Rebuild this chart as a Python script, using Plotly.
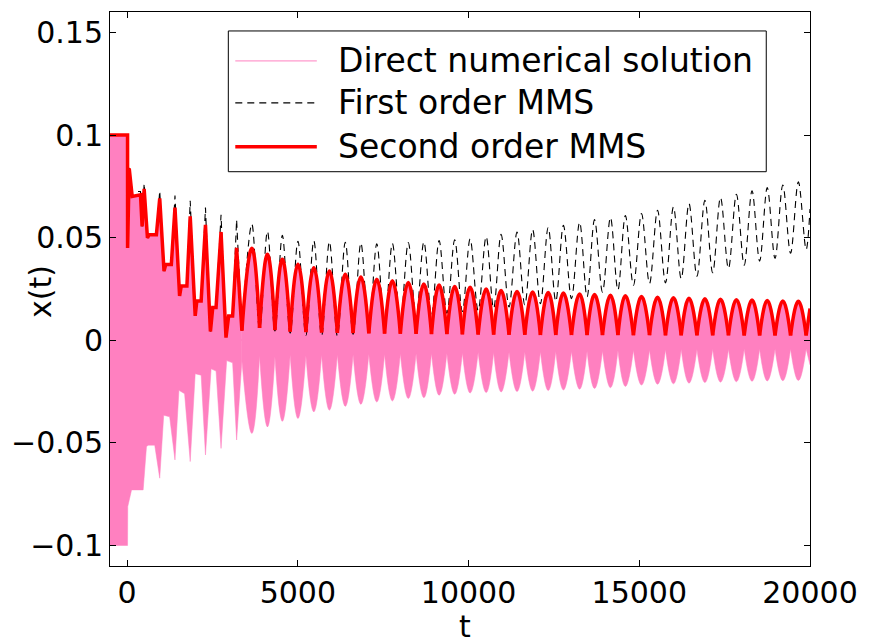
import plotly.graph_objects as go

# ---------------- data ----------------
# Early transient (t < 3400): vertices of the envelopes, joined by straight lines
early_t = [-500, 14, 15, 63, 150, 393, 441, 500, 597, 645, 859, 956, 1082, 1131, 1296,
           1403, 1538, 1587, 1752, 1849, 1995, 2043, 2169, 2296, 2441, 2509, 2606, 2752,
           2897, 2975, 3091, 3208, 3363]
second_early = [0.1, 0.1, 0.045, 0.0838, 0.0701, 0.0709, 0.0555, 0.0738, 0.0499, 0.0515,
                0.0515, 0.0692, 0.0337, 0.0369, 0.0369, 0.0647, 0.0216, 0.0265, 0.0265,
                0.0604, 0.0119, 0.0192, 0.0192, 0.0563, 0.0043, 0.0160, 0.0160, 0.0528,
                0.0013, 0.0119, 0.0119, 0.0450, 0.0047]
first_early = [0.1, 0.1, 0.045, 0.084, 0.0725, 0.0725, 0.0555, 0.0765, 0.0499, 0.0515,
               0.0515, 0.0728, 0.0337, 0.0369, 0.0369, 0.0705, 0.0216, 0.0265, 0.0265,
               0.068, 0.0119, 0.0192, 0.0192, 0.0647, 0.0043, 0.016, 0.016, 0.0612,
               0.0013, 0.0119, 0.0119, 0.0588, 0.0047]
direct_low_early_t = [-500, 14, 20, 131, 471, 568, 616, 810, 956, 1073, 1247, 1403, 1519,
                      1684, 1849, 1995, 2169, 2296, 2461, 2606, 2752, 2917, 3091, 3208, 3363]
direct_low_early = [-0.1, -0.1, -0.081, -0.0729, -0.0729, -0.0519, -0.0511, -0.0511,
                    -0.0672, -0.0365, -0.0373, -0.0583, -0.0244, -0.0260, -0.0591, -0.0163,
                    -0.0170, -0.0559, -0.0139, -0.0150, -0.0527, -0.0099, -0.0110, -0.0486,
                    -0.0099]

# Slow modulation after the transient: envelope minima (troughs) and maxima (peaks)
trough_t = [3363, 3880, 4330, 4776, 5237, 5697, 6158, 6619, 7080, 7541, 8003, 8464, 8915,
            9366, 9820, 10281, 10735, 11186, 11648, 12105, 12555, 13015, 13471, 13923,
            14375, 14829, 15300, 15768, 16228, 16689, 17150, 17612, 18073, 18525, 18976,
            19431, 19887]
peak_t = [3654, 4111, 4547, 5004, 5469, 5925, 6391, 6847, 7313, 7770, 8236, 8692, 9138,
          9595, 10046, 10516, 10953, 11420, 11877, 12333, 12778, 13253, 13690, 14156,
          14593, 15065, 15535, 16001, 16456, 16922, 17379, 17845, 18302, 18748, 19204, 19659]

second_peak = [0.0448, 0.0419, 0.0395, 0.0371, 0.0354, 0.0338, 0.0322, 0.0309, 0.0298,
               0.0290, 0.0282, 0.0274, 0.0269, 0.0262, 0.0258, 0.0250, 0.0243, 0.0238,
               0.0235, 0.0233, 0.0230, 0.0226, 0.0223, 0.0220, 0.0217, 0.0214, 0.0210,
               0.0207, 0.0205, 0.0202, 0.0200, 0.0198, 0.0196, 0.0194, 0.0192, 0.0190]
second_trough = [0.0047, 0.0060, 0.0050, 0.0042, 0.0040, 0.0038, 0.0036, 0.0035, 0.0034,
                 0.0033, 0.0032, 0.0031, 0.0030, 0.0030, 0.0029, 0.0028, 0.0028, 0.0027,
                 0.0027, 0.0026, 0.0026, 0.0026, 0.0025, 0.0025, 0.0025, 0.0025, 0.0025,
                 0.0024, 0.0024, 0.0024, 0.0024, 0.0024, 0.0023, 0.0023, 0.0023, 0.0023,
                 0.0023]
first_peak = [0.0566, 0.0531, 0.0512, 0.0483, 0.0485, 0.0480, 0.0478, 0.0474, 0.0470,
              0.0472, 0.0476, 0.0480, 0.0486, 0.0490, 0.0494, 0.0505, 0.0516, 0.0527,
              0.0540, 0.0550, 0.0560, 0.0575, 0.0588, 0.0598, 0.0608, 0.0618, 0.0634,
              0.0650, 0.0666, 0.0682, 0.0696, 0.0712, 0.0728, 0.0744, 0.0757, 0.0772]
first_trough = [0.0047, 0.0055, 0.0045, 0.0035, 0.0025, 0.0022, 0.0022, 0.0030, 0.0050,
                0.0075, 0.0095, 0.0110, 0.0122, 0.0132, 0.0140, 0.0145, 0.0155, 0.0163,
                0.0172, 0.0178, 0.0190, 0.0203, 0.0212, 0.0235, 0.0245, 0.0268, 0.0277,
                0.0280, 0.0300, 0.0312, 0.0329, 0.0350, 0.0366, 0.0386, 0.0400, 0.0424,
                0.0442]
direct_min = [-0.0454, -0.0422, -0.0395, -0.0381, -0.0349, -0.0341, -0.0322, -0.0312,
              -0.0301, -0.0296, -0.0284, -0.0280, -0.0268, -0.0263, -0.0257, -0.0255,
              -0.0252, -0.0250, -0.0248, -0.0245, -0.0242, -0.0238, -0.0235, -0.0231,
              -0.0225, -0.0218, -0.0214, -0.0212, -0.0209, -0.0206, -0.0204, -0.0202,
              -0.0200, -0.0198, -0.0197, -0.0196]
direct_cusp = [-0.0099, -0.0075, -0.0080, -0.0072, -0.0075, -0.0072, -0.0070, -0.0070,
               -0.0068, -0.0068, -0.0066, -0.0066, -0.0064, -0.0064, -0.0062, -0.0060,
               -0.0060, -0.0058, -0.0057, -0.0056, -0.0055, -0.0054, -0.0053, -0.0052,
               -0.0050, -0.0048, -0.0047, -0.0046, -0.0045, -0.0045, -0.0044, -0.0044,
               -0.0043, -0.0043, -0.0042, -0.0042, -0.0042]

t_end = 20000
second_end = 0.0155
first_end = 0.064
direct_low_end = -0.012

xticks = [0, 5000, 10000, 15000, 20000]
xtick_text = ["0", "5000", "10000", "15000", "20000"]
yticks = [-0.1, -0.05, 0, 0.05, 0.1, 0.15]
ytick_text = ["\u22120.1", "\u22120.05", "0", "0.05", "0.1", "0.15"]

legend_names = ["Direct numerical solution", "First order MMS", "Second order MMS"]

# ---------------- helpers ----------------
def arches(tt, tv, pt, pv, te, ve):
    """One spline arch per cycle (trough -> peak -> trough), cusps at the troughs."""
    xs, ys = [], []
    for i in range(len(pt)):
        xs += [tt[i], pt[i], tt[i + 1], None]
        ys += [tv[i], pv[i], tv[i + 1], None]
    xs += [tt[-1], te]
    ys += [tv[-1], ve]
    return xs, ys


def wave(tt, tv, pt, pv, te, ve):
    """Continuous alternating trough/peak sequence."""
    xs, ys = [], []
    for i in range(len(pt)):
        xs += [tt[i], pt[i]]
        ys += [tv[i], pv[i]]
    xs += [tt[-1], te]
    ys += [tv[-1], ve]
    return xs, ys


PINK = "#FF80C0"
RED = "#FF0000"
FONT = "DejaVu Sans"
DASH = "7px,5px"

fig = go.Figure()

# Direct numerical solution: fast oscillation drawn as its filled band
sec_x, sec_y = arches(trough_t, second_trough, peak_t, second_peak, t_end, second_end)
low_x, low_y = arches(trough_t, direct_cusp, peak_t, direct_min, t_end, direct_low_end)

for xs, ys, shape in [(early_t, second_early, "linear"),
                      (direct_low_early_t, direct_low_early, "linear"),
                      (sec_x, sec_y, "spline"),
                      (low_x, low_y, "spline")]:
    fig.add_trace(go.Scatter(
        x=xs, y=ys, mode="lines", fill="tozeroy", fillcolor=PINK,
        line=dict(color=PINK, width=0.5, shape=shape, smoothing=1.3, simplify=False),
        connectgaps=False, hoverinfo="skip", name=legend_names[0], showlegend=False))

# First order MMS
fst_x, fst_y = wave(trough_t, first_trough, peak_t, first_peak, t_end, first_end)
fig.add_trace(go.Scatter(x=early_t, y=first_early, mode="lines",
                         line=dict(color="black", width=1.1, dash=DASH, simplify=False),
                         name=legend_names[1], showlegend=False))
fig.add_trace(go.Scatter(x=fst_x, y=fst_y, mode="lines",
                         line=dict(color="black", width=1.1, dash=DASH, shape="spline",
                                   smoothing=1.0, simplify=False),
                         name=legend_names[1], showlegend=False))

# Second order MMS
fig.add_trace(go.Scatter(x=early_t, y=second_early, mode="lines",
                         line=dict(color=RED, width=3.5, simplify=False),
                         name=legend_names[2], showlegend=False))
fig.add_trace(go.Scatter(x=sec_x, y=sec_y, mode="lines", connectgaps=False,
                         line=dict(color=RED, width=3.5, shape="spline", smoothing=1.3,
                                   simplify=False),
                         name=legend_names[2], showlegend=False))

# ---------------- layout ----------------
W, H = 869, 643
L, R, T, B = 110, 814, 11, 566


def px(x):
    return (x - L) / (R - L)


def py(y):
    return (B - y) / (B - T)


axis_common = dict(showline=True, linecolor="black", linewidth=1, mirror="ticks",
                   ticks="inside", ticklen=6, tickcolor="black", showgrid=False,
                   tickfont=dict(family=FONT, size=30, color="black"))

fig.update_layout(
    width=W, height=H,
    margin=dict(l=L, r=W - R, t=T, b=H - B),
    plot_bgcolor="white", paper_bgcolor="white",
    showlegend=False,
    xaxis=dict(range=[-500, 20000], tickvals=xticks, ticktext=xtick_text,
               zeroline=False, **axis_common),
    # the pink zero line sits under the band so the two filled halves join seamlessly
    yaxis=dict(range=[-0.11, 0.16], tickvals=yticks, ticktext=ytick_text,
               zeroline=True, zerolinecolor=PINK, zerolinewidth=2, **axis_common),
)

# axis titles
fig.add_annotation(text="t", x=px(467), y=py(627), xref="paper", yref="paper",
                   showarrow=False, xanchor="center", yanchor="middle",
                   font=dict(family=FONT, size=30, color="black"))
fig.add_annotation(text="x(t)", x=px(40), y=py(291), xref="paper", yref="paper",
                   showarrow=False, xanchor="center", yanchor="middle", textangle=-90,
                   font=dict(family=FONT, size=30, color="black"))

# legend box
fig.add_shape(type="rect", xref="paper", yref="paper",
              x0=px(229), x1=px(770), y0=py(171), y1=py(30),
              line=dict(color="black", width=1), fillcolor="white", layer="above")
legend_rows = [(60, PINK, 1, "solid"), (102, "black", 1.1, DASH), (146, RED, 3.5, "solid")]
for (yy, col, wd, ds), name in zip(legend_rows, legend_names):
    fig.add_shape(type="line", xref="paper", yref="paper",
                  x0=px(236), x1=px(318), y0=py(yy), y1=py(yy),
                  line=dict(color=col, width=wd, dash=ds), layer="above")
    fig.add_annotation(text=name, x=px(337), y=py(yy), xref="paper", yref="paper",
                       showarrow=False, xanchor="left", yanchor="middle",
                       font=dict(family=FONT, size=33, color="black"))

fig.write_html("out.html")
